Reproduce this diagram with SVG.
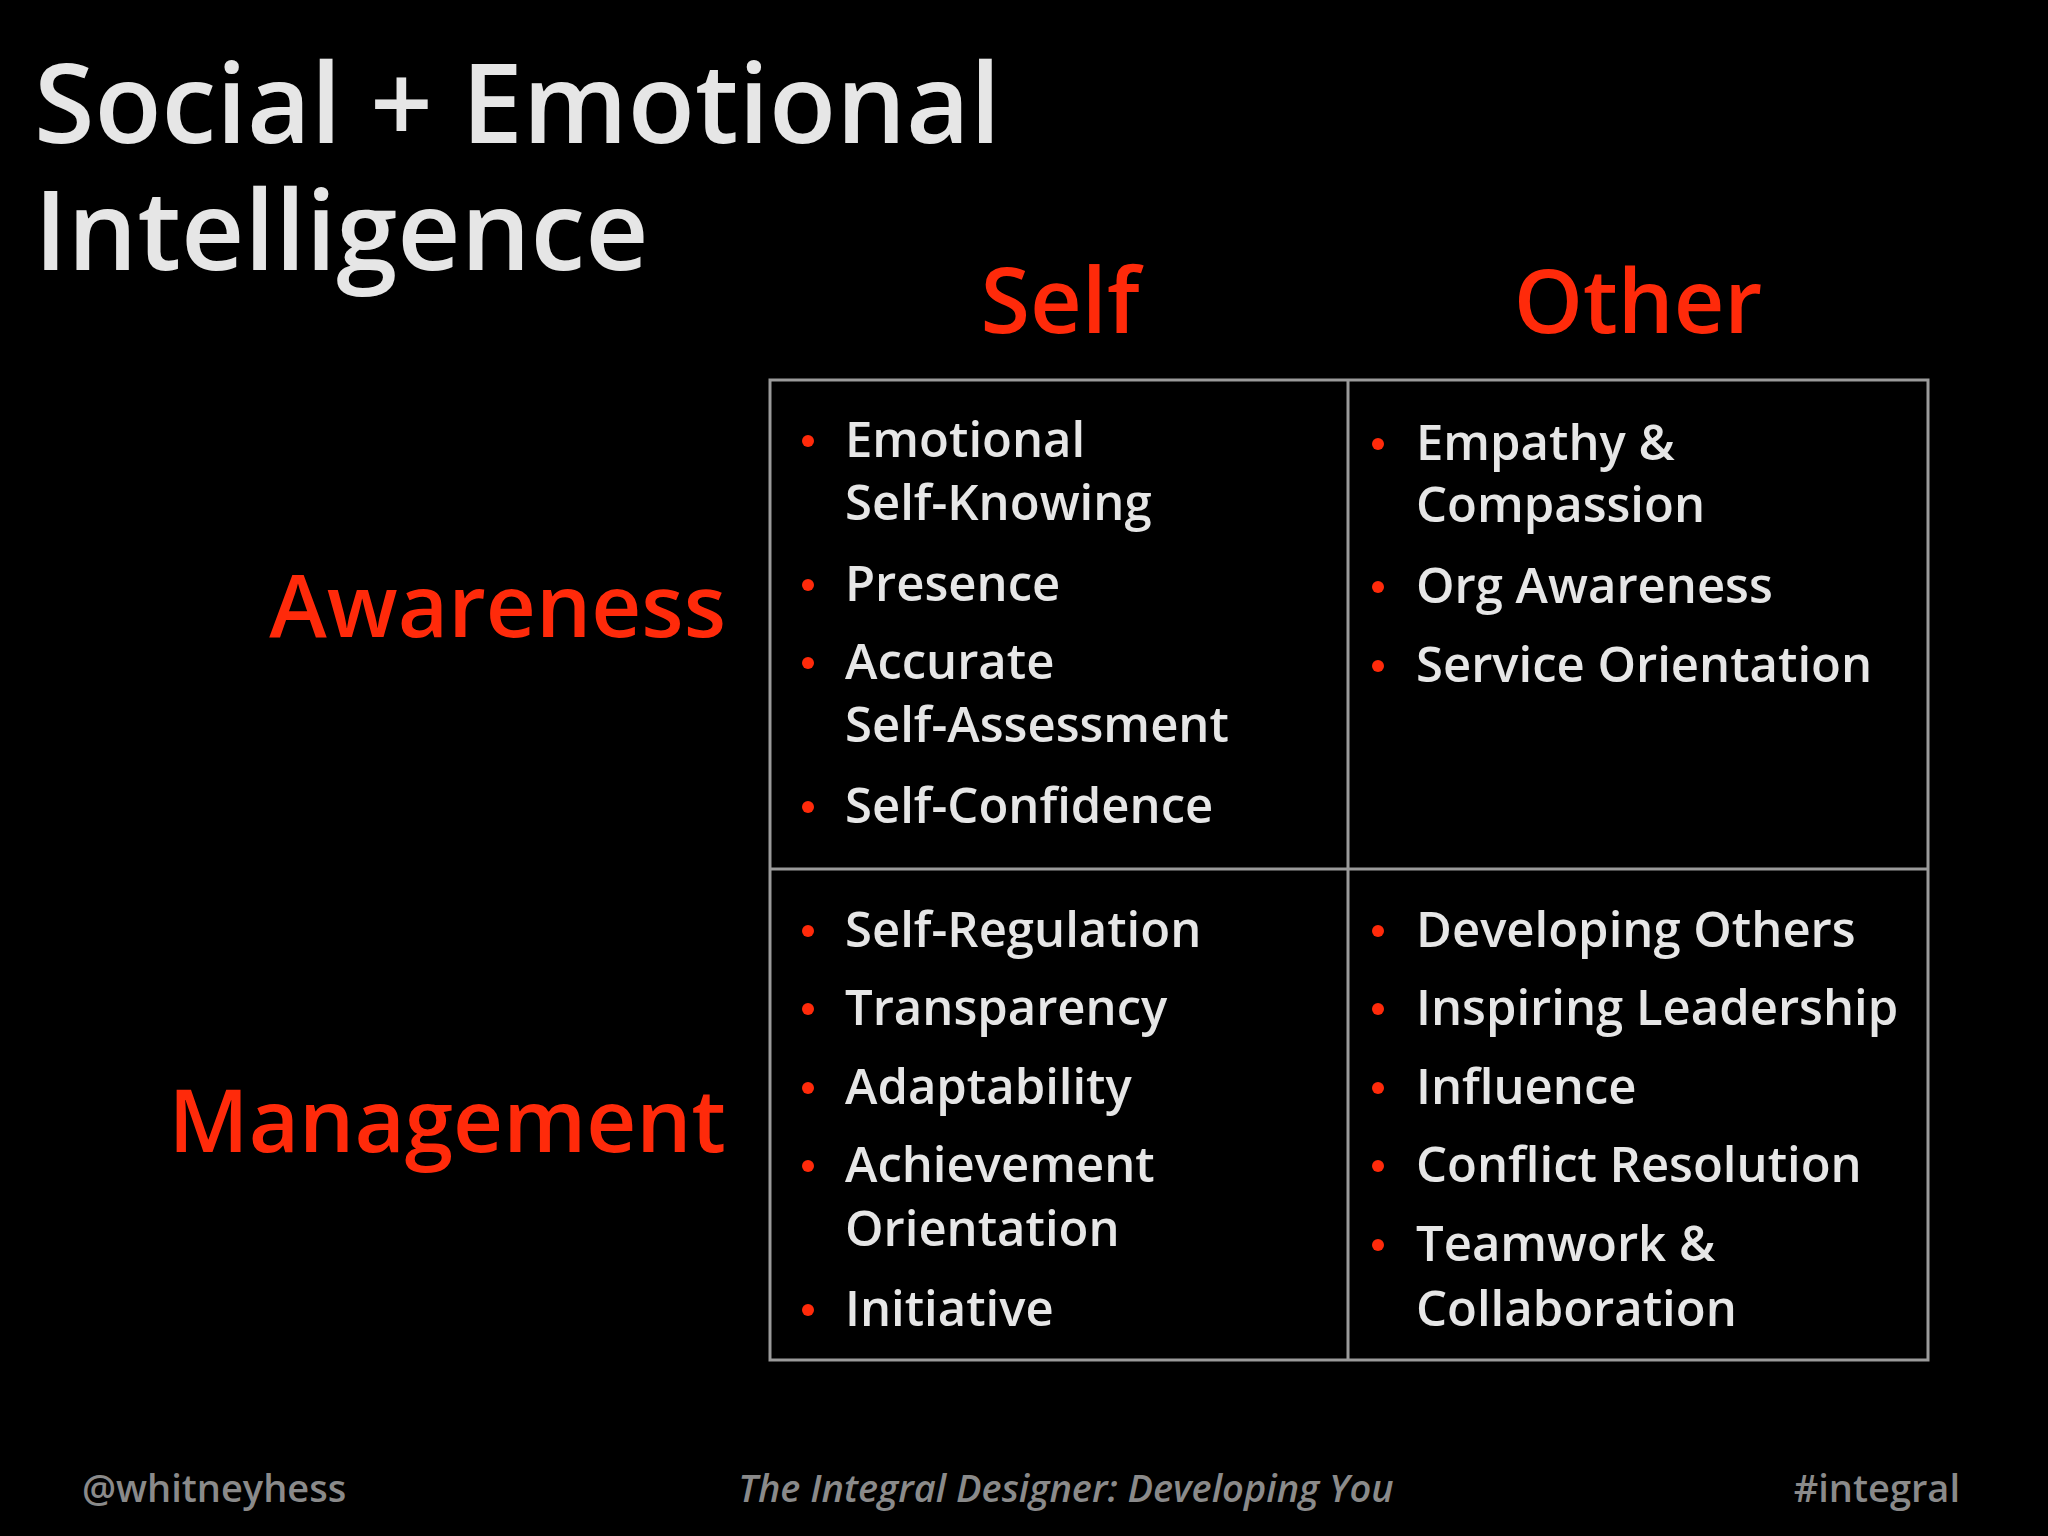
<svg xmlns="http://www.w3.org/2000/svg" width="2048" height="1536" viewBox="0 0 2048 1536">
<style>
.t{font-family:"Open Sans","Noto Sans",sans-serif;fill:#e6e6e6;font-weight:600}
.h{font-family:"Open Sans","Noto Sans",sans-serif;fill:#ff2a0a;font-weight:600}
.i{font-family:"Open Sans","Noto Sans",sans-serif;fill:#e6e6e6;font-size:49px;font-weight:600}
.f{font-family:"Open Sans","Noto Sans",sans-serif;fill:#8a8a8a;font-size:38px;font-weight:600}
.d{fill:#ff2a0a}
.g{stroke:#9a9a9a;stroke-width:3;fill:none}
</style>
<rect width="2048" height="1536" fill="#000"/>
<g id="title"><text class="t" x="34" y="143" font-size="110">Social + Emotional</text><text class="t" x="34" y="270" font-size="110">Intelligence</text></g>
<g id="headers">
<text class="h" x="1060" y="333" font-size="90" text-anchor="middle">Self</text>
<text class="h" x="1638" y="333" font-size="88" text-anchor="middle">Other</text>
<text class="h" x="726" y="637" font-size="87" text-anchor="end">Awareness</text>
<text class="h" x="726" y="1152" font-size="87" text-anchor="end">Management</text>
</g>
<g id="grid"><rect class="g" x="770" y="380" width="1158" height="980"/><line class="g" x1="1348" y1="380" x2="1348" y2="1360"/><line class="g" x1="770" y1="869" x2="1928" y2="869"/></g>
<g id="self-awareness">
<circle class="d" cx="808" cy="441" r="6"/><text class="i" x="845" y="457">Emotional</text><text class="i" x="845" y="520">Self-Knowing</text>
<circle class="d" cx="808" cy="585" r="6"/><text class="i" x="845" y="601">Presence</text>
<circle class="d" cx="808" cy="663" r="6"/><text class="i" x="845" y="679">Accurate</text><text class="i" x="845" y="742">Self-Assessment</text>
<circle class="d" cx="808" cy="807" r="6"/><text class="i" x="845" y="823">Self-Confidence</text>
</g>
<g id="other-awareness">
<circle class="d" cx="1378" cy="444" r="6"/><text class="i" x="1416" y="460">Empathy &amp;</text><text class="i" x="1416" y="522">Compassion</text>
<circle class="d" cx="1378" cy="587" r="6"/><text class="i" x="1416" y="603">Org Awareness</text>
<circle class="d" cx="1378" cy="666" r="6"/><text class="i" x="1416" y="682">Service Orientation</text>
</g>
<g id="self-management">
<circle class="d" cx="808" cy="931" r="6"/><text class="i" x="845" y="947">Self-Regulation</text>
<circle class="d" cx="808" cy="1009" r="6"/><text class="i" x="845" y="1025">Transparency</text>
<circle class="d" cx="808" cy="1088" r="6"/><text class="i" x="845" y="1104">Adaptability</text>
<circle class="d" cx="808" cy="1166" r="6"/><text class="i" x="845" y="1182">Achievement</text><text class="i" x="845" y="1246">Orientation</text>
<circle class="d" cx="808" cy="1310" r="6"/><text class="i" x="845" y="1326">Initiative</text>
</g>
<g id="other-management">
<circle class="d" cx="1378" cy="931" r="6"/><text class="i" x="1416" y="947">Developing Others</text>
<circle class="d" cx="1378" cy="1009" r="6"/><text class="i" x="1416" y="1025">Inspiring Leadership</text>
<circle class="d" cx="1378" cy="1088" r="6"/><text class="i" x="1416" y="1104">Influence</text>
<circle class="d" cx="1378" cy="1166" r="6"/><text class="i" x="1416" y="1182">Conflict Resolution</text>
<circle class="d" cx="1378" cy="1245" r="6"/><text class="i" x="1416" y="1261">Teamwork &amp;</text><text class="i" x="1416" y="1326">Collaboration</text>
</g>
<g id="footer">
<text class="f" x="82" y="1502">@whitneyhess</text>
<text class="f" x="1066" y="1502" text-anchor="middle" font-style="italic" font-weight="400">The Integral Designer: Developing You</text>
<text class="f" x="1960" y="1502" text-anchor="end">#integral</text>
</g>
</svg>
